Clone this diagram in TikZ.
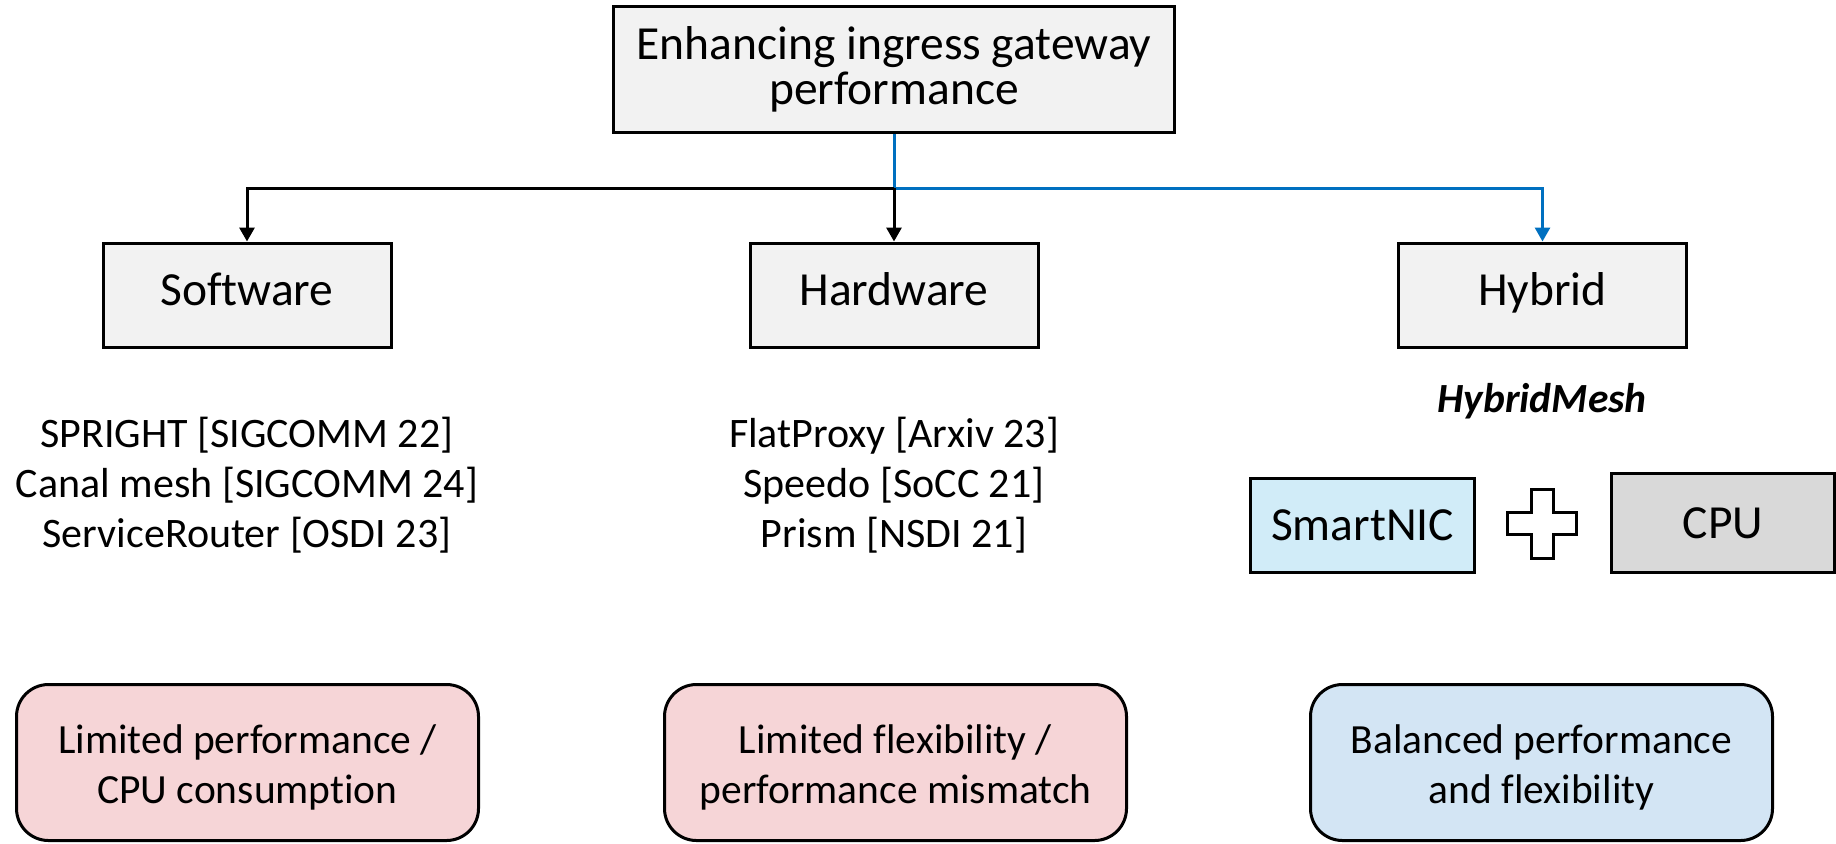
\documentclass[tikz,border=0pt]{standalone}
\usepackage{fontspec}
\setmainfont{Carlito}[Ligatures=NoCommon]
\usetikzlibrary{arrows.meta}

\definecolor{boxgray}{HTML}{F2F2F2}
\definecolor{cpugray}{HTML}{D9D9D9}
\definecolor{nicblue}{HTML}{D1ECF8}
\definecolor{issuepink}{HTML}{F6D5D7}
\definecolor{goodblue}{HTML}{D3E5F4}
\definecolor{linkblue}{HTML}{0070C0}

\tikzset{
  frame/.style={draw=black, line width=1.5pt, inner sep=0pt, align=center},
  rootbox/.style={frame, fill=boxgray, minimum width=280.5pt, minimum height=63pt,
    font=\fontsize{23.75}{22.25}\selectfont},
  catbox/.style={frame, fill=boxgray, minimum width=144pt, minimum height=52pt,
    font=\fontsize{23.75}{28}\selectfont, text height=1em, text depth=0pt},
  partbox/.style={frame, minimum height=47pt, font=\fontsize{23.75}{28}\selectfont},
  outcome/.style={frame, rounded corners=16pt, minimum width=231pt, minimum height=78pt},
  outtext/.style={inner sep=0pt, align=center, font=\fontsize{20.75}{25}\selectfont},
  worklist/.style={inner sep=0pt, align=center, font=\fontsize{21}{25}\selectfont},
  link/.style={line width=1.5pt, -{Triangle[length=7pt,width=7.5pt]}},
}

\begin{document}
\begin{tikzpicture}[x=0.5pt,y=-0.5pt]
\useasboundingbox (0,0) rectangle (1836,843);

% root of the taxonomy
\node[rootbox] (top) at (894,69.5) {Enhancing ingress gateway\\performance};

% three approaches
\node[catbox] (sw)  at (247,295)    {Software};
\node[catbox] (hw)  at (894,295)    {Hardware};
\node[catbox] (hyb) at (1542.5,295) {Hybrid};

% branching connectors
\coordinate (j) at (894,188);
\draw[link, linkblue] (top.south) -- (j) -| (hyb.north);
\draw[link] (j) -| (sw.north);
\draw[link] (j) -- (hw.north);

% representative systems
\node[worklist] (swlist) at (247,485)
  {SPRIGHT [SIGCOMM 22]\\Canal mesh [SIGCOMM 24]\\ServiceRouter [OSDI 23]};
\node[worklist] (hwlist) at (894,485)
  {FlatProxy [Arxiv 23]\\Speedo [SoCC 21]\\Prism [NSDI 21]};

% hybrid design
\node[anchor=base, inner sep=0pt, font=\fontsize{20.75}{24}\selectfont\bfseries\itshape]
  (hm) at (1542,412) {HybridMesh};
\node[partbox, fill=nicblue, minimum width=112pt] (nic) at (1362.5,525.5) {SmartNIC};
\node[partbox, fill=cpugray, minimum width=111.5pt, minimum height=49.5pt] (cpu) at (1723,523) {CPU};

% plus sign between the two parts
\coordinate (plus) at (1542,523.5);
\draw[line width=1.5pt, fill=white, shift={(plus)}]
  (-11,-34.5) -- (11,-34.5) -- (11,-11) -- (34.5,-11) -- (34.5,11) -- (11,11)
  -- (11,34.5) -- (-11,34.5) -- (-11,11) -- (-34.5,11) -- (-34.5,-11) -- (-11,-11) -- cycle;

% outcomes: rounded boxes with their captions set slightly below centre
\node[outcome, fill=issuepink] (swres)  at (247.5,762.5)  {};
\node[outcome, fill=issuepink] (hwres)  at (895.5,762.5)  {};
\node[outcome, fill=goodblue]  (hybres) at (1541.5,762.5) {};
\node[outtext] (swrestxt)  at ([yshift=-2.5pt]swres.center)  {Limited performance /\\CPU consumption};
\node[outtext] (hwrestxt)  at ([yshift=-2.5pt]hwres.center)  {Limited flexibility /\\performance mismatch};
\node[outtext] (hybrestxt) at ([yshift=-2.5pt]hybres.center) {Balanced performance\\and flexibility};
\end{tikzpicture}
\end{document}
